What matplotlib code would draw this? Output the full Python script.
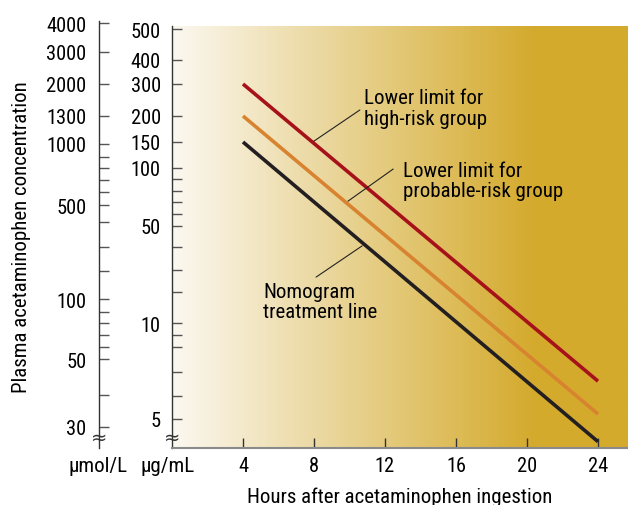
import numpy as np
import matplotlib
matplotlib.use("Agg")
import matplotlib.pyplot as plt
from matplotlib.colors import LinearSegmentedColormap

plt.rcParams['font.family'] = ['Roboto Condensed', 'DejaVu Sans']

# ---- data -------------------------------------------------------------
hours = [4, 24]
high_risk     = [300, 6.6]    # ug/mL
probable_risk = [200, 5.2]
treatment     = [150, 4.2]

x_ticks = [4, 8, 12, 16, 20, 24]

ugml_major = [500, 400, 300, 200, 150, 100, 50, 10, 5]
ugml_minor = [90, 80, 70, 60, 40, 30, 20, 9, 8, 7, 6]
umol_major = [4000, 3000, 2000, 1300, 1000, 500, 100, 50, 30]
umol_minor = [900, 800, 700, 600, 400, 300, 200, 90, 80, 70, 60, 40]

# the printed nomogram uses a hand-drawn log axis: value -> height (px above x axis)
ugml_anchor_val = [4, 5, 6, 7, 8, 9, 10, 20, 30, 40, 50, 60, 70, 80, 90,
                   100, 150, 200, 300, 400, 500, 510]
ugml_anchor_h   = [0, 29, 52, 76, 101, 113, 125, 156, 178, 201, 222, 234, 246,
                   257, 269, 280, 306, 332, 364, 388, 419, 422]
umol_anchor_val = [25, 30, 40, 50, 60, 70, 80, 90, 100, 200, 300, 400, 500,
                   600, 700, 800, 900, 1000, 1300, 2000, 3000, 4000, 4200]
umol_anchor_h   = [0, 21, 53, 89, 101, 113, 125, 136, 149, 177, 201, 226, 243,
                   256, 268, 280, 291, 304, 332, 364, 396, 425, 427]


def make_scale(vals, hts):
    lv = np.log10(vals)
    def fwd(v):
        v = np.clip(np.asarray(v, dtype=float), 1e-9, None)
        return np.interp(np.log10(v), lv, hts)
    def inv(h):
        return 10 ** np.interp(np.asarray(h, dtype=float), hts, lv)
    return fwd, inv


FS = 15
TS = 14.7
W, H = 628, 506
fig = plt.figure(figsize=(W / 100, H / 100), dpi=100)

# main axes (ug/mL)
ax = fig.add_axes([172 / W, (H - 449) / H, 456 / W, 422 / H])
ax.set_yscale('function', functions=make_scale(ugml_anchor_val, ugml_anchor_h))
ax.set_ylim(ugml_anchor_val[0], ugml_anchor_val[-1])
ax.set_xlim(0, 456 / 17.75)

# background gradient white -> gold
cmap = LinearSegmentedColormap.from_list('bg', ['#FBF8F0', '#D4AA2C'])
grad = np.clip(np.linspace(0, 1, 512) / 0.8, 0, 1).reshape(1, -1)
ax.imshow(grad, cmap=cmap, aspect='auto', extent=(0, 1, 0, 1),
          transform=ax.transAxes, zorder=0, interpolation='bilinear')

ax.plot(hours, high_risk, color='#A6111A', lw=2.6, solid_capstyle='butt', zorder=3)
ax.plot(hours, probable_risk, color='#D8832F', lw=2.6, solid_capstyle='butt', zorder=3)
ax.plot(hours, treatment, color='#231F20', lw=2.6, solid_capstyle='butt', zorder=3)

ax.set_yticks(ugml_major)
ax.set_yticklabels([str(v) for v in ugml_major])
ax.set_yticks(ugml_minor, minor=True)
ax.yaxis.set_minor_formatter(plt.NullFormatter())
ax.tick_params(axis='y', which='both', direction='in', length=7, width=1,
               color='#555555', labelsize=TS, pad=8)
ax.set_xticks(x_ticks)
ax.tick_params(axis='x', direction='in', length=7, width=1, color='#333333',
               labelsize=TS, pad=6)

for s in ['top', 'right']:
    ax.spines[s].set_visible(False)
ax.spines['left'].set_color('#333333')
ax.spines['left'].set_linewidth(1)
ax.spines['bottom'].set_color('#8a8a8a')
ax.spines['bottom'].set_linewidth(1.5)

ax.set_xlabel("Hours after acetaminophen ingestion", fontsize=FS, labelpad=8)

# outer axis (umol/L)
ax2 = fig.add_axes([99 / W, (H - 449) / H, 0.01, 427 / H])
ax2.patch.set_visible(False)
ax2.set_yscale('function', functions=make_scale(umol_anchor_val, umol_anchor_h))
ax2.set_ylim(umol_anchor_val[0], umol_anchor_val[-1])
ax2.set_xticks([])
for s in ['top', 'right', 'bottom']:
    ax2.spines[s].set_visible(False)
ax2.spines['left'].set_color('#333333')
ax2.spines['left'].set_linewidth(1)
ax2.set_yticks(umol_major)
ax2.set_yticklabels([str(v) for v in umol_major])
ax2.set_yticks(umol_minor, minor=True)
ax2.yaxis.set_minor_formatter(plt.NullFormatter())
ax2.tick_params(axis='y', which='both', direction='in', length=7, width=1,
                color='#555555', labelsize=TS, pad=9)

# axis breaks
for xpx in [99, 172]:
    fig.text(xpx / W, 1 - 438 / H, "\u2248", fontsize=14,
             ha='center', va='center', family='DejaVu Sans', color='#333333')

fig.text(98 / W, 1 - 467 / H, "\u00b5mol/L", fontsize=FS, ha='center', va='center')
fig.text(168 / W, 1 - 467 / H, "\u00b5g/mL", fontsize=FS, ha='center', va='center')
fig.text(22 / W, 1 - 237 / H, "Plasma acetaminophen concentration", fontsize=FS,
         rotation=90, ha='center', va='center')

# labels with leader lines
lead = dict(arrowstyle='-', lw=0.8, color='#222222', shrinkA=0, shrinkB=0)
ax.annotate("", xy=(0.311, 0.727), xytext=(0.412, 0.801),
            xycoords='axes fraction', arrowprops=lead)
ax.text(0.421, 0.806, "Lower limit for\nhigh-risk group", transform=ax.transAxes,
        fontsize=FS, ha='left', va='center', linespacing=1.1)
ax.annotate("", xy=(0.386, 0.585), xytext=(0.485, 0.661),
            xycoords='axes fraction', arrowprops=lead)
ax.text(0.507, 0.634, "Lower limit for\nprobable-risk group", transform=ax.transAxes,
        fontsize=FS, ha='left', va='center', linespacing=1.1)
ax.annotate("", xy=(0.316, 0.405), xytext=(0.417, 0.479),
            xycoords='axes fraction', arrowprops=lead)
ax.text(0.200, 0.347, "Nomogram\ntreatment line", transform=ax.transAxes,
        fontsize=FS, ha='left', va='center', linespacing=1.1)

fig.savefig("out.png", dpi=100)
